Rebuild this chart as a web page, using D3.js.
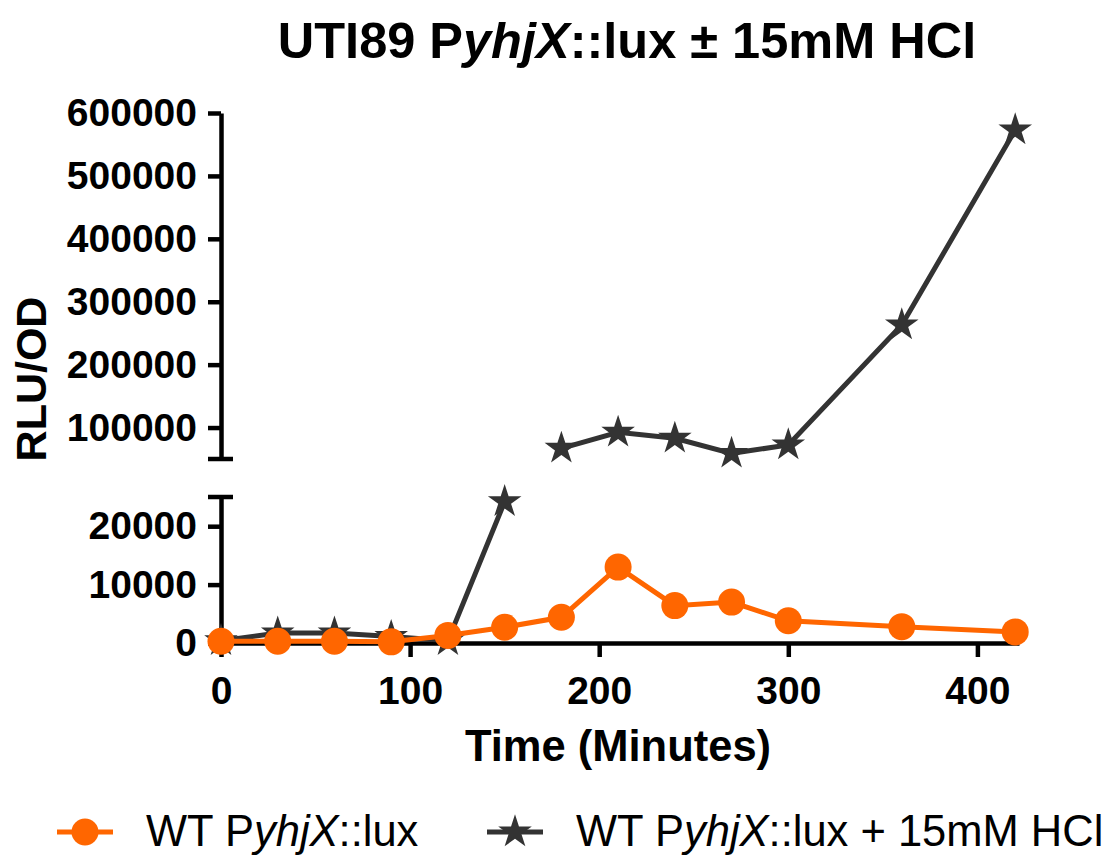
<!DOCTYPE html>
<html>
<head>
<meta charset="utf-8">
<script src="https://cdn.jsdelivr.net/npm/d3@7"></script>
<style>
  body { margin: 0; background: #fff; }
  text { font-family: "Liberation Sans", Arial, Helvetica, sans-serif; }
  .axis path, .axis line { stroke: #000; stroke-width: 4.5px; }
  .axis text { font-size: 39px; font-weight: bold; fill: #000; }
</style>
</head>
<body>
<div id="chart"></div>
<script>
const minutes = [0, 30, 60, 90, 120, 150, 180, 210, 240, 270, 300, 360, 420]
const wt = [300, 300, 300, 200, 1300, 2700, 4400, 13000, 6400, 7000, 3800, 2800, 1900]
const wtHcl = [400, 1700, 1700, 1100, 400, 24200, 67000, 92400, 82900, 59000, 72300, 263000, 573000]
const xTicks = [0, 100, 200, 300, 400]
const upperTicks = [100000, 200000, 300000, 400000, 500000, 600000]
const lowerTicks = [0, 10000, 20000]
const seriesNames = ['WT PyhjX::lux', 'WT PyhjX::lux + 15mM HCl']

const w = 1107
const h = 859
const orange = '#ff6600'
const dark = '#333333'

const svg = d3.select('#chart').append('svg')
  .attr('width', w)
  .attr('height', h)

const x = d3.scaleLinear().domain([0, 422]).range([221, 1019])
const yUpper = d3.scaleLinear().domain([50000, 600000]).range([459, 113])
const yLower = d3.scaleLinear().domain([0, 25000]).range([643, 497])

const panels = [
  { y: yUpper, lo: 50000, hi: 600000 },
  { y: yLower, lo: 0, hi: 25000 }
]

const rows = minutes.map((m, i) => ({ m, a: wt[i], b: wtHcl[i] }))

// axes
svg.append('g')
  .attr('class', 'axis')
  .attr('transform', 'translate(0,' + yLower(0) + ')')
  .call(d3.axisBottom(x).tickValues(xTicks).tickSize(14).tickSizeOuter(0).tickPadding(19).tickFormat(d3.format('d')))

svg.append('g')
  .attr('class', 'axis')
  .attr('transform', 'translate(' + x(0) + ',0)')
  .call(d3.axisLeft(yUpper).tickValues(upperTicks).tickSize(13).tickSizeOuter(0).tickPadding(11).tickFormat(d3.format('d')))

svg.append('g')
  .attr('class', 'axis')
  .attr('transform', 'translate(' + x(0) + ',0)')
  .call(d3.axisLeft(yLower).tickValues(lowerTicks).tickSize(13).tickSizeOuter(0).tickPadding(11).tickFormat(d3.format('d')))

// caps at the axis break
svg.selectAll('.cap')
  .data([yUpper(50000), yLower(25000)])
  .enter().append('line')
  .attr('x1', x(0) - 13)
  .attr('x2', x(0) + 12)
  .attr('y1', d => d)
  .attr('y2', d => d)
  .attr('stroke', '#000')
  .attr('stroke-width', 4.5)

// series, each panel only joins points inside its own range
const star = d3.symbol().type(d3.symbolStar).size(350)

panels.forEach(p => {
  const inside = v => v >= p.lo && v <= p.hi
  const lineB = d3.line()
    .defined(d => inside(d.b))
    .x(d => x(d.m))
    .y(d => p.y(d.b))
  const lineA = d3.line()
    .defined(d => inside(d.a))
    .x(d => x(d.m))
    .y(d => p.y(d.a))

  svg.append('path')
    .datum(rows)
    .attr('fill', 'none')
    .attr('stroke', dark)
    .attr('stroke-width', 5)
    .attr('d', lineB)

  svg.selectAll(null)
    .data(rows.filter(d => inside(d.b)))
    .enter().append('path')
    .attr('d', star)
    .attr('fill', dark)
    .attr('transform', d => 'translate(' + x(d.m) + ',' + p.y(d.b) + ')')

  svg.append('path')
    .datum(rows)
    .attr('fill', 'none')
    .attr('stroke', orange)
    .attr('stroke-width', 5)
    .attr('d', lineA)

  svg.selectAll(null)
    .data(rows.filter(d => inside(d.a)))
    .enter().append('circle')
    .attr('cx', d => x(d.m))
    .attr('cy', d => p.y(d.a))
    .attr('r', 13.5)
    .attr('fill', orange)
})

// title
const title = svg.append('text')
  .attr('x', 627)
  .attr('y', 58)
  .attr('text-anchor', 'middle')
  .attr('font-size', 50.5)
  .attr('font-weight', 'bold')
title.append('tspan').text('UTI89 P')
title.append('tspan').attr('font-style', 'italic').text('yhjX')
title.append('tspan').text('::lux ± 15mM HCl')

svg.append('text')
  .attr('transform', 'translate(46,379) rotate(-90)')
  .attr('text-anchor', 'middle')
  .attr('font-size', 43)
  .attr('font-weight', 'bold')
  .text('RLU/OD')

svg.append('text')
  .attr('x', 618)
  .attr('y', 761)
  .attr('text-anchor', 'middle')
  .attr('font-size', 43.5)
  .attr('font-weight', 'bold')
  .text('Time (Minutes)')

// legend
const legend = [
  { name: seriesNames[0], color: orange, cx: 85, tx: 146 },
  { name: seriesNames[1], color: dark, cx: 515, tx: 576 }
]
legend.forEach((d, i) => {
  const g = svg.append('g')
  g.append('line')
    .attr('x1', d.cx - 28).attr('x2', d.cx + 28)
    .attr('y1', 832).attr('y2', 832)
    .attr('stroke', d.color)
    .attr('stroke-width', 5)
  if (i === 0) {
    g.append('circle').attr('cx', d.cx).attr('cy', 832).attr('r', 13.5).attr('fill', d.color)
  } else {
    g.append('path').attr('d', star).attr('fill', d.color).attr('transform', 'translate(' + d.cx + ',832)')
  }
  const t = g.append('text')
    .attr('x', d.tx)
    .attr('y', 846)
    .attr('font-size', 43.5)
  const parts = d.name.split('yhjX')
  t.append('tspan').text(parts[0])
  t.append('tspan').attr('font-style', 'italic').text('yhjX')
  t.append('tspan').text(parts[1])
})
</script>
</body>
</html>
